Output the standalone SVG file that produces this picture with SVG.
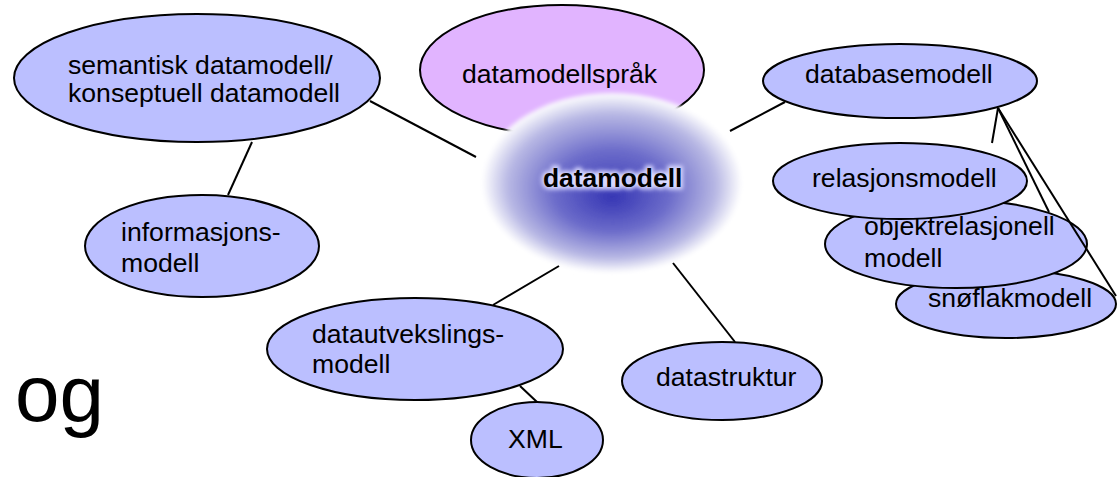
<svg xmlns="http://www.w3.org/2000/svg" width="1117" height="477" viewBox="0 0 1117 477">
<defs>
<style>
.n{fill:#BBBFFF;stroke:#000;stroke-width:2}
.p{fill:#E1B4FF;stroke:#000;stroke-width:2}
.t{font-family:"Liberation Sans",Arial,sans-serif;font-size:26.6px;fill:#000}
.c line{stroke:#000;stroke-width:2}
</style>
<radialGradient id="g" cx="0.5" cy="0.5" r="0.5" fx="0.5" fy="0.58">
<stop offset="0" stop-color="#3636B4"/>
<stop offset="0.45" stop-color="#6C6CCA"/>
<stop offset="0.8" stop-color="#B8B8E4"/>
<stop offset="1" stop-color="#FFFFFF"/>
</radialGradient>
<filter id="soft" x="-10%" y="-10%" width="120%" height="120%"><feGaussianBlur stdDeviation="2"/></filter>
<filter id="glow" x="-10%" y="-30%" width="120%" height="160%"><feGaussianBlur stdDeviation="2"/></filter>
</defs>
<rect width="1117" height="477" fill="#fff"/>
<text x="15" y="421" style="font-family:'Liberation Sans',Arial,sans-serif;font-size:80px;fill:#000">og</text>
<g id="semantisk">
<ellipse class="n" cx="197" cy="78" rx="183" ry="64"/>
<text class="t" x="68" y="74">semantisk datamodell/</text>
<text class="t" x="68" y="102">konseptuell datamodell</text>
</g>
<g id="informasjonsmodell">
<ellipse class="n" cx="202" cy="246" rx="117" ry="51"/>
<text class="t" x="121" y="241">informasjons-</text>
<text class="t" x="121" y="272">modell</text>
</g>
<g id="datamodellsprak">
<ellipse class="p" cx="562" cy="70" rx="142" ry="65"/>
<text class="t" x="462" y="83">datamodellspråk</text>
</g>
<g id="datamodell">
<ellipse cx="612" cy="183" rx="130" ry="90" fill="url(#g)" filter="url(#soft)"/>
<text x="543" y="187" style="font-family:'Liberation Sans',Arial,sans-serif;font-size:26.4px;font-weight:bold;fill:none;stroke:#D8D8FF;stroke-width:5" filter="url(#glow)">datamodell</text>
<text x="543" y="187" style="font-family:'Liberation Sans',Arial,sans-serif;font-size:26.4px;font-weight:bold;fill:#000">datamodell</text>
</g>
<g id="databasemodell">
<ellipse class="n" cx="900" cy="81" rx="137" ry="37"/>
<text class="t" x="805" y="83">databasemodell</text>
</g>
<g id="snoflakmodell">
<ellipse class="n" cx="1006" cy="304" rx="110" ry="34"/>
<text class="t" x="928" y="307">snøflakmodell</text>
</g>
<g id="objektrelasjonell">
<ellipse class="n" cx="956" cy="244" rx="131" ry="44"/>
<text class="t" x="864" y="235">objektrelasjonell</text>
<text class="t" x="864" y="267">modell</text>
</g>
<g id="relasjonsmodell">
<ellipse class="n" cx="900" cy="181" rx="127" ry="38"/>
<text class="t" x="812" y="187">relasjonsmodell</text>
</g>
<g id="datautvekslingsmodell">
<ellipse class="n" cx="415" cy="349" rx="148" ry="51"/>
<text class="t" x="312" y="343">datautvekslings-</text>
<text class="t" x="312" y="373">modell</text>
</g>
<g id="xml">
<ellipse class="n" cx="537" cy="440" rx="66" ry="38"/>
<text class="t" x="508" y="448">XML</text>
</g>
<g id="datastruktur">
<ellipse class="n" cx="722" cy="381" rx="100" ry="39"/>
<text class="t" x="656" y="386">datastruktur</text>
</g>
<g class="c" id="connectors">
<line x1="370" y1="101" x2="476" y2="157"/>
<line x1="252" y1="142" x2="228" y2="195"/>
<line x1="730" y1="131" x2="785" y2="102"/>
<line x1="559" y1="266" x2="493" y2="305"/>
<line x1="673" y1="263" x2="735" y2="342"/>
<line x1="520" y1="386" x2="537" y2="402"/>
<line x1="998" y1="108" x2="992" y2="143"/>
<line x1="998" y1="108" x2="1049" y2="212"/>
<line x1="998" y1="108" x2="1116" y2="296"/>
</g>
</svg>
